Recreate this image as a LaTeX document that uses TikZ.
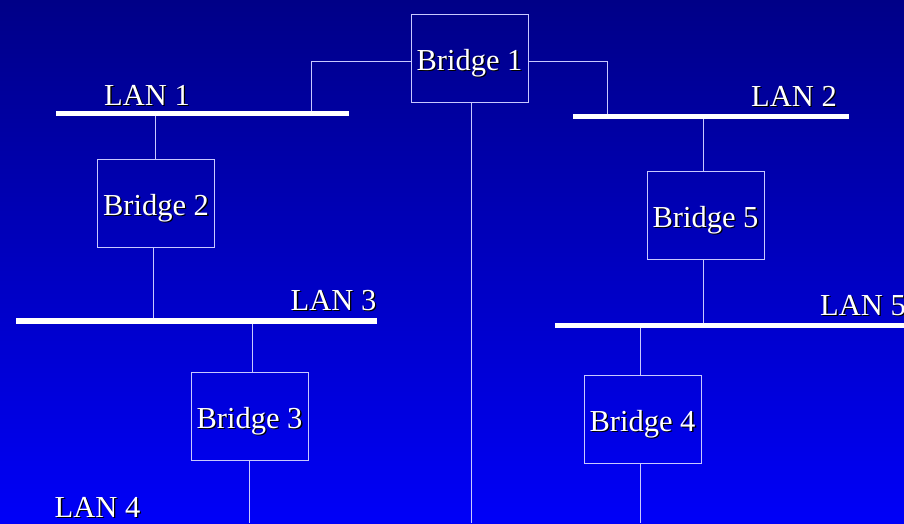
\documentclass[tikz,border=0pt]{standalone}
\usepackage{fontspec}
\setmainfont{Liberation Serif}
\definecolor{bgtop}{RGB}{0,0,135}
\definecolor{bgbot}{RGB}{0,0,248}
\definecolor{wire}{RGB}{200,200,255}
\newcommand\shtext[1]{\makebox[0pt][l]{\hspace{1.3pt}\raisebox{-1.3pt}{\color{black}#1}}#1}
\newcommand\btext[1]{\smash{\raisebox{-12pt}{\shtext{#1}}}}
\tikzset{
  bridge/.style={draw=wire, line width=1pt, minimum width=117pt, minimum height=88pt, inner sep=0pt,
    text=white, font=\fontsize{30.5}{32}\selectfont},
  lanbar/.style={fill=white, draw=none, inner sep=0pt, minimum height=5.5pt},
  lanlabel/.style={text=white, inner sep=0pt, font=\fontsize{30.5}{32}\selectfont},
  wireline/.style={draw=wire, line width=1pt}
}
\begin{document}
\begin{tikzpicture}[x=1pt,y=-1pt]
\useasboundingbox (0,0) rectangle (904,523);
\shade[top color=bgtop, bottom color=bgbot] (0,0) rectangle (904,523);
% bridges
\node[bridge] (b1) at (469.5,58) {\btext{Bridge 1}};
\node[bridge] (b2) at (156,203) {\btext{Bridge 2}};
\node[bridge] (b3) at (249.5,416.5) {\btext{Bridge 3}};
\node[bridge] (b5) at (705.5,215) {\btext{Bridge 5}};
\node[bridge] (b4) at (642.5,419.5) {\btext{Bridge 4}};
% LAN bars
\node[lanbar, minimum width=293pt] (lan1) at (202.5,113.5) {};
\node[lanbar, minimum width=361pt] (lan3) at (196.5,321) {};
\node[lanbar, minimum width=276pt] (lan2) at (711,116.5) {};
\node[lanbar, minimum width=349pt] (lan5) at (729.5,325.5) {};
% labels
\node[lanlabel] (t1) at (147,96) {\shtext{LAN 1}};
\node[lanlabel] (t2) at (794,97) {\shtext{LAN 2}};
\node[lanlabel] (t3) at (333.5,301) {\shtext{LAN 3}};
\node[lanlabel] (t4) at (97.5,508) {\shtext{LAN 4}};
\node[lanlabel, anchor=west] (t5) at (820,306) {\shtext{LAN 5}};
% free ends
\coordinate (l1a) at (311,113.5);
\coordinate (l2a) at (607,116.5);
\coordinate (e1) at (471,523);
\coordinate (e3) at (249,523);
\coordinate (e4) at (640,523);
% wires
\draw[wireline] ([yshift=-3pt]b1.west) -| (l1a);
\draw[wireline] ([yshift=-3pt]b1.east) -| (l2a);
\draw[wireline] ([xshift=1.5pt]b1.south) -- (e1);
\draw[wireline] ([xshift=-1pt]b2.north) -- ([xshift=-1pt]b2.north |- lan1.center);
\draw[wireline] ([xshift=-3pt]b2.south) -- ([xshift=-3pt]b2.south |- lan3.center);
\draw[wireline] ([xshift=2.5pt]b3.north) -- ([xshift=2.5pt]b3.north |- lan3.center);
\draw[wireline] ([xshift=-0.5pt]b3.south) -- (e3);
\draw[wireline] ([xshift=-2.5pt]b5.north) -- ([xshift=-2.5pt]b5.north |- lan2.center);
\draw[wireline] ([xshift=-2.5pt]b5.south) -- ([xshift=-2.5pt]b5.south |- lan5.center);
\draw[wireline] ([xshift=-2.5pt]b4.north) -- ([xshift=-2.5pt]b4.north |- lan5.center);
\draw[wireline] ([xshift=-2.5pt]b4.south) -- (e4);
% redraw bars on top
\fill[white] (lan1.south west) rectangle (lan1.north east);
\fill[white] (lan3.south west) rectangle (lan3.north east);
\fill[white] (lan2.south west) rectangle (lan2.north east);
\fill[white] (lan5.south west) rectangle (lan5.north east);
\end{tikzpicture}
\end{document}
